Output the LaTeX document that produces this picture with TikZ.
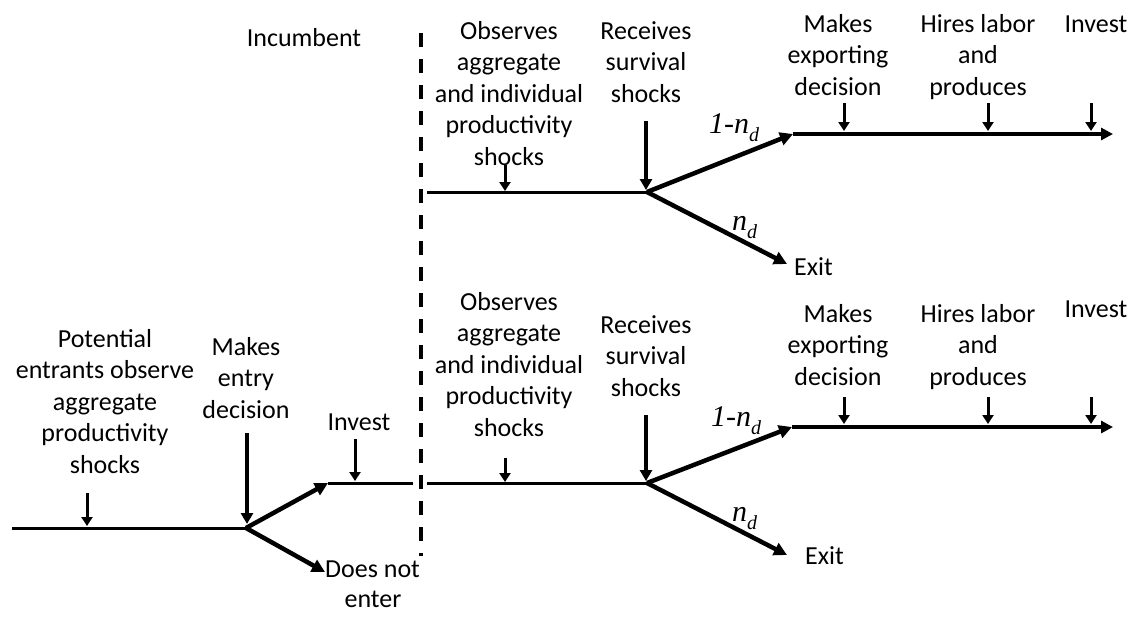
\documentclass[tikz,border=0pt]{standalone}
\usepackage{fontspec}
\setmainfont{Carlito}
\newfontfamily\serifit{Liberation Serif}
\usetikzlibrary{arrows.meta}
\newcommand{\lblfont}{\fontsize{26}{31.5}\selectfont}
\newcommand{\probfont}{\serifit\itshape\fontsize{30}{32}\selectfont}
\newcommand{\subd}{\raisebox{-0.65ex}{\fontsize{20}{20}\selectfont d}}
\begin{document}
\begin{tikzpicture}[x=1pt,y=-1pt,
  lbl/.style={font=\lblfont, align=center, anchor=base, inner sep=0pt},
  prob/.style={font=\probfont, anchor=base west, inner sep=0pt},
  tline/.style={line width=3pt},
  branch/.style={line width=4.5pt, -{Triangle[length=13pt,width=13pt]}},
  dnarrow/.style={line width=3pt, -{Triangle[length=9pt,width=11pt]}},
  bigdn/.style={line width=3.5pt, -{Triangle[length=11pt,width=12pt]}},
  divider/.style={line width=4pt, dash pattern=on 14pt off 12pt}]
\useasboundingbox (0,0) rectangle (1138,616);

% divider
\coordinate (dtop) at (421,33);
\coordinate (dbot) at (421,556);
\draw[divider] (dtop) -- (dbot);

\node[lbl] (incumbent) at (304,46) {Incumbent};

% ===== Entrant (left) =====
\coordinate (e0) at (12,528);
\coordinate (ej) at (246,528);
\coordinate (einv) at (328,483);
\coordinate (einvend) at (413,483);
\coordinate (enot) at (325,572);
\draw[tline] (e0) -- (ej);
\draw[branch] (ej) -- (einv);
\draw[branch] (ej) -- (enot);
\draw[tline] (einv) -- (einvend);

\node[lbl] (potential) at (105,473) {Potential\\entrants observe\\aggregate\\productivity\\shocks};
\coordinate (pa1) at (87,493);
\coordinate (pa2) at (87,526);
\draw[dnarrow] (pa1) -- (pa2);

\node[lbl] (entry) at (246,418) {Makes\\entry\\decision};
\coordinate (ea1) at (247,433);
\coordinate (ea2) at (247,524);
\draw[bigdn] (ea1) -- (ea2);

\node[lbl] (einvlbl) at (359,430) {Invest};
\coordinate (ia1) at (355,439);
\coordinate (ia2) at (355,481);
\draw[dnarrow] (ia1) -- (ia2);

\node[lbl, anchor=base west] (doesnot) at (325,577) {Does not};
\node[lbl] (enter) at (373,607) {enter};

% ===== Incumbent top =====
\coordinate (t0) at (427,192);
\coordinate (tj) at (647,192);
\coordinate (tup) at (793,134);
\coordinate (tend) at (1113,134);
\coordinate (texit) at (787,264);
\draw[tline] (t0) -- (tj);
\draw[branch] (tj) -- (tup);
\draw[branch] (tj) -- (texit);
\draw[line width=4pt, -{Triangle[length=12pt,width=12pt]}] (tup) -- (tend);

\node[lbl] (tobs) at (509,165) {Observes\\aggregate\\and individual\\productivity\\shocks};
\coordinate (to1) at (505,165);
\coordinate (to2) at (505,191);
\draw[dnarrow] (to1) -- (to2);

\node[lbl] (trec) at (646,102) {Receives\\survival\\shocks};
\coordinate (tr1) at (646,121);
\coordinate (tr2) at (646,190);
\draw[bigdn] (tr1) -- (tr2);

\node[prob] (tp1) at (709,133) {1-n\subd};
\node[prob] (tp2) at (732,230) {n\subd};
\node[lbl, anchor=base west] (texitlbl) at (794,275) {Exit};

\node[lbl] (texp) at (838,95) {Makes\\exporting\\decision};
\node[lbl] (thire) at (978,95) {Hires labor\\and\\produces};
\node[lbl] (tinv) at (1096,32) {Invest};
\coordinate (tx1) at (844,103);
\coordinate (tx2) at (844,131);
\coordinate (th1) at (988,103);
\coordinate (th2) at (988,131);
\coordinate (ti1) at (1091,103);
\coordinate (ti2) at (1091,131);
\draw[dnarrow] (tx1) -- (tx2);
\draw[dnarrow] (th1) -- (th2);
\draw[dnarrow] (ti1) -- (ti2);

% ===== Incumbent bottom (entrant) =====
\coordinate (b0) at (427,483);
\coordinate (bj) at (647,483);
\coordinate (bup) at (792,427);
\coordinate (bend) at (1113,427);
\coordinate (bexit) at (787,555);
\draw[tline] (b0) -- (bj);
\draw[branch] (bj) -- (bup);
\draw[branch] (bj) -- (bexit);
\draw[line width=4pt, -{Triangle[length=12pt,width=12pt]}] (bup) -- (bend);

\node[lbl] (bobs) at (509,436) {Observes\\aggregate\\and individual\\productivity\\shocks};
\coordinate (bo1) at (505,458);
\coordinate (bo2) at (505,482);
\draw[dnarrow] (bo1) -- (bo2);

\node[lbl] (brec) at (646,396) {Receives\\survival\\shocks};
\coordinate (br1) at (646,415);
\coordinate (br2) at (646,481);
\draw[bigdn] (br1) -- (br2);

\node[prob] (bp1) at (711,426) {1-n\subd};
\node[prob] (bp2) at (732,521) {n\subd};
\node[lbl, anchor=base west] (bexitlbl) at (805,564) {Exit};

\node[lbl] (bexp) at (838,385) {Makes\\exporting\\decision};
\node[lbl] (bhire) at (978,385) {Hires labor\\and\\produces};
\node[lbl] (binv) at (1096,317) {Invest};
\coordinate (bx1) at (844,397);
\coordinate (bx2) at (844,424);
\coordinate (bh1) at (988,397);
\coordinate (bh2) at (988,424);
\coordinate (bi1) at (1091,397);
\coordinate (bi2) at (1091,424);
\draw[dnarrow] (bx1) -- (bx2);
\draw[dnarrow] (bh1) -- (bh2);
\draw[dnarrow] (bi1) -- (bi2);
\end{tikzpicture}
\end{document}
